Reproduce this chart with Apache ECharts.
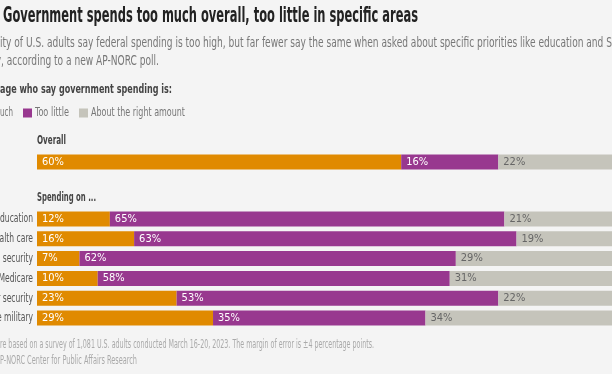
<!DOCTYPE html>
<html><head><meta charset="utf-8">
<script src="https://cdn.jsdelivr.net/npm/echarts@6/dist/echarts.min.js"></script>
<style>html,body{margin:0;padding:0;background:#f4f4f4}#c{width:612px;height:374px}</style>
</head><body><div id="c"></div>
<script>
const categories = ['Education','Health care','Social security','Medicare','Border security','The military'];
const tooMuch = [12,16,7,10,23,29];
const tooLittle = [65,63,62,58,53,35];
const aboutRight = [21,19,29,31,22,34];
const overallCategory = ['Overall'];
const overallTooMuch = [60];
const overallTooLittle = [16];
const overallAboutRight = [22];
const seriesNames = ['Too much','Too little','About the right amount'];

const FONT = '"DejaVu Sans Condensed","DejaVu Sans",sans-serif';
const colors = ['#e08a00','#98388f','#c5c4bb'];
const labelColors = ['#ffffff','#ffffff','#666666'];

const ctx = document.createElement('canvas').getContext('2d');
function w(text, font){ ctx.font = font; return ctx.measureText(text).width; }
// text squeezed horizontally so that the 'visible' part spans x0..x1
function fit(hidden, visible, trailing, x0, x1, y, font, fill){
  const s = (x1 - x0) / w(visible, font);
  return {type:'text', x: x0 - s*w(hidden, font), y, scaleX:s, scaleY:1, originX:0, originY:0,
    style:{text: hidden+visible+trailing, font, fill, textVerticalAlign:'middle', textAlign:'left'},
    silent:true, s};
}

const chart = echarts.init(document.getElementById('c'));
function mk(name, idx, data, gi){
  return {
    name, type:'bar', stack:'s'+gi, xAxisIndex:gi, yAxisIndex:gi, data,
    barWidth:15, itemStyle:{color:colors[idx]},
    label:{show:true, position:'insideLeft', distance:5, formatter:'{c}%',
      color:labelColors[idx], fontFamily:FONT, fontSize:11},
    emphasis:{disabled:true}, animation:false
  };
}

const gfx = [];
gfx.push(fit('', 'Government spends too much overall, too little in specific areas', '', 3, 418, 16, 'bold 22px '+FONT, '#222'));
const SF = '14px '+FONT;
const sub1 = fit('A major', 'ity of U.S. adults say federal spending is too high, but far fewer say the same when asked about specific priorities like education and S', 'ocial', 0, 612, 43, SF, '#777');
gfx.push(sub1);
const s1 = sub1.s;
gfx.push({type:'text', x: 1 - s1*w('Security', SF), y:61, scaleX:s1, originX:0, originY:0,
  style:{text:'Security, according to a new AP-NORC poll.', font:SF, fill:'#777', textVerticalAlign:'middle'}, silent:true});
gfx.push(fit('Percent', 'age who say government spending is:', '', 0, 172, 90, 'bold 13px '+FONT, '#444'));
gfx.push(fit('', 'Overall', '', 37, 66, 141, 'bold 13px '+FONT, '#444'));
gfx.push(fit('', 'Spending on ...', '', 37, 96, 198, 'bold 13px '+FONT, '#444'));
gfx.push(fit('Results a', 're based on a survey of 1,081 U.S. adults conducted March 16-20, 2023. The margin of error is \u00b14 percentage points.', '', 0, 374, 345, '12px '+FONT, '#aaa'));
gfx.push(fit('Source: A', 'P-NORC Center for Public Affairs Research', '', 0, 137, 361, '12px '+FONT, '#aaa'));
// legend
const LF = '13px '+FONT;
const lg0 = fit('Too m', 'uch', '', 0, 13, 113, LF, '#777');
const lg1 = fit('', seriesNames[1], '', 35, 69, 113, LF, '#777');
const lg2 = fit('', seriesNames[2], '', 91, 185, 113, LF, '#777');
gfx.push(lg0, lg1, lg2);
gfx.push({type:'rect', shape:{x:lg0.x-13, y:108.5, width:9, height:9}, style:{fill:colors[0]}, silent:true});
gfx.push({type:'rect', shape:{x:23, y:108.5, width:9, height:9}, style:{fill:colors[1]}, silent:true});
gfx.push({type:'rect', shape:{x:79, y:108.5, width:9, height:9}, style:{fill:colors[2]}, silent:true});
gfx.forEach(g => delete g.s);

chart.setOption({
  backgroundColor:'#f4f4f4',
  animation:false,
  textStyle:{fontFamily:FONT},
  graphic:gfx,
  grid:[
    {left:37, width:607, top:154.5, height:15, containLabel:false, outerBoundsMode:'none'},
    {left:37, width:607, top:209.1, height:118.8, containLabel:false, outerBoundsMode:'none'}
  ],
  xAxis:[
    {gridIndex:0, type:'value', min:0, max:100, show:false},
    {gridIndex:1, type:'value', min:0, max:100, show:false}
  ],
  yAxis:[
    {gridIndex:0, type:'category', data:overallCategory, show:false},
    {gridIndex:1, type:'category', data:categories, inverse:true,
      axisLine:{show:false}, axisTick:{show:false},
      axisLabel:{show:false}}
  ],
  series:[
    mk(seriesNames[0],0,overallTooMuch,0),
    mk(seriesNames[1],1,overallTooLittle,0),
    mk(seriesNames[2],2,overallAboutRight,0),
    mk(seriesNames[0],0,tooMuch,1),
    mk(seriesNames[1],1,tooLittle,1),
    mk(seriesNames[2],2,aboutRight,1)
  ]
});

// row labels: squeezed category names, placed with the axis scale
const RF = '13px '+FONT;
const rs = 33 / w('ducation', RF);
const rowLabels = categories.map(c => {
  const p = chart.convertToPixel({yAxisIndex:1}, c);
  return {type:'text', x:33, y:p, scaleX:rs, originX:0, originY:0, silent:true,
    style:{text:c, font:RF, fill:'#555', textAlign:'right', textVerticalAlign:'middle'}};
});
chart.setOption({graphic: gfx.concat(rowLabels)});
</script></body></html>
